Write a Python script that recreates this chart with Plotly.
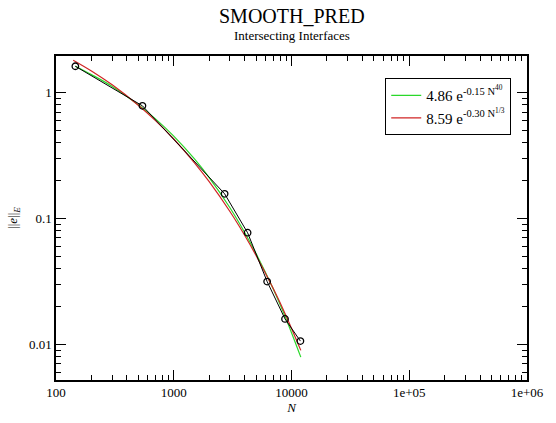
import plotly.graph_objects as go

# Data
data_N = [146, 542, 2704, 4237, 6210, 8810, 11900]
data_err = [1.62, 0.785, 0.157, 0.077, 0.0315, 0.0159, 0.0106]

fit_N = [146, 200, 300, 500, 700, 1000, 1500, 2000, 3000, 4000, 5000, 7000, 9000, 12000]
green_err = [1.62, 1.39, 1.12, 0.80, 0.619, 0.451, 0.297, 0.211, 0.1216, 0.0774, 0.0526, 0.0275, 0.0159, 0.0079]
red_N = [140, 200, 300, 500, 700, 1000, 1500, 2000, 3000, 4000, 5000, 7000, 9000, 12000]
red_err = [1.81, 1.486, 1.153, 0.794, 0.599, 0.428, 0.277, 0.196, 0.1135, 0.0735, 0.0508, 0.0277, 0.0168, 0.00894]

x_tickvals = [100, 1000, 10000, 100000, 1000000]
x_ticktext = ["100", "1000", "10000", "1e+05", "1e+06"]
y_tickvals = [0.01, 0.1, 1]
y_ticktext = ["0.01", "0.1", "1"]

title_text = "SMOOTH_PRED"
subtitle_text = "Intersecting Interfaces"
green_label = "4.86 e<sup>-0.15 N<sup>40</sup></sup>"
red_label = "8.59 e<sup>-0.30 N<sup>1/3</sup></sup>"

x_minor = [m * 10 ** d for d in range(2, 6) for m in range(2, 10)]
y_minor = [m * 10 ** d for d in range(-3, 1) for m in range(2, 10)]

FONT = "Liberation Serif, Times New Roman, serif"

fig = go.Figure()
fig.add_trace(go.Scatter(x=fit_N, y=green_err, mode="lines", name=green_label,
                         line=dict(color="#2ad82a", width=1.2, shape="spline")))
fig.add_trace(go.Scatter(x=red_N, y=red_err, mode="lines", name=red_label,
                         line=dict(color="#d02424", width=1.2, shape="spline")))
fig.add_trace(go.Scatter(x=data_N, y=data_err, mode="lines+markers", showlegend=False,
                         line=dict(color="black", width=1),
                         marker=dict(symbol="circle-open", size=6.5, color="black",
                                     line=dict(width=1.3, color="black"))))

axis_common = dict(showline=True, linecolor="black", linewidth=1.5, mirror="ticks",
                   ticks="inside", ticklen=10, tickwidth=1, tickcolor="black",
                   showgrid=False, zeroline=False,
                   tickfont=dict(family=FONT, size=13, color="black"))

fig.update_xaxes(type="log", range=[2, 6], tickmode="array",
                 tickvals=x_tickvals, ticktext=x_ticktext,
                 title=dict(text="<i>N</i>", font=dict(family=FONT, size=13, color="black"), standoff=2),
                 minor=dict(ticks="inside", ticklen=5, tickwidth=1, tickcolor="black",
                            tickmode="array", tickvals=x_minor),
                 **axis_common)
fig.update_yaxes(type="log", range=[-2.284, 0.291], tickmode="array",
                 tickvals=y_tickvals, ticktext=y_ticktext,
                 title=dict(text="||<i>e</i>||<sub><i>E</i></sub>", font=dict(family=FONT, size=13, color="black"), standoff=8),
                 minor=dict(ticks="inside", ticklen=5, tickwidth=1, tickcolor="black",
                            tickmode="array", tickvals=y_minor),
                 **axis_common)

fig.add_annotation(text=title_text, xref="paper", yref="paper", x=0.5, y=1.125,
                   xanchor="center", yanchor="middle", showarrow=False,
                   font=dict(family=FONT, size=20, color="black"))
fig.add_annotation(text=subtitle_text, xref="paper", yref="paper", x=0.5, y=1.062,
                   xanchor="center", yanchor="middle", showarrow=False,
                   font=dict(family=FONT, size=13, color="black"))

fig.update_layout(
    width=556, height=423,
    margin=dict(l=56, r=19, t=56, b=31),
    paper_bgcolor="white", plot_bgcolor="white",
    font=dict(family=FONT, color="black"),
    legend=dict(x=0.699, y=0.932, xanchor="left", yanchor="top",
                bgcolor="white", bordercolor="black", borderwidth=1,
                font=dict(family=FONT, size=15, color="black"),
                itemwidth=30, tracegroupgap=0),
    showlegend=True,
)

fig.write_html("out.html", config={"displayModeBar": False},
               post_script="document.body.style.margin='0px';document.body.style.overflow='hidden';")
